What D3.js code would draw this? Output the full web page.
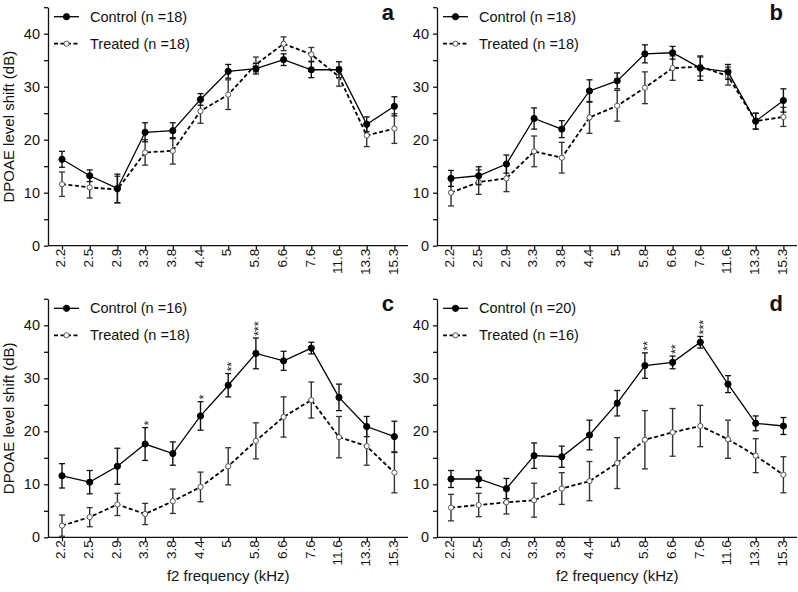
<!DOCTYPE html>
<html>
<head>
<meta charset="utf-8">
<script src="https://cdn.jsdelivr.net/npm/d3@7/dist/d3.min.js"></script>
<style>
  body { margin: 0; background: #fff; }
  text { font-family: "Liberation Sans", Arial, Helvetica, sans-serif; fill: #111; }
  .stars { filter: grayscale(100%); }
</style>
</head>
<body>
<script>
// f2 frequencies (kHz)
var freqs = ["2.2", "2.5", "2.9", "3.3", "3.8", "4.4", "5", "5.8", "6.6", "7.6", "11.6", "13.3", "15.3"];
var yTicks = [0, 5, 10, 15, 20, 25, 30, 35, 40, 45];

// panel a
var controlA    = [16.3, 13.2, 10.8, 21.4, 21.7, 27.6, 32.9, 33.4, 35.1, 33.2, 33.2, 22.9, 26.3];
var controlAErr = [1.5, 1.1, 2.7, 1.8, 1.5, 1.1, 1.3, 1.0, 1.1, 1.5, 1.5, 1.4, 1.8];
var treatedA    = [11.6, 11.0, 10.6, 17.6, 17.9, 25.4, 28.5, 34.2, 38.1, 36.1, 31.9, 20.8, 22.1];
var treatedAErr = [2.3, 2.0, 2.5, 2.4, 2.5, 2.3, 2.8, 1.4, 1.3, 1.3, 1.8, 2.1, 2.8];

// panel b
var controlB    = [12.7, 13.2, 15.4, 24.0, 22.0, 29.2, 31.1, 36.2, 36.4, 33.5, 32.8, 23.5, 27.4];
var controlBErr = [1.5, 1.7, 1.7, 2.0, 1.6, 2.1, 1.5, 1.7, 1.2, 2.3, 1.4, 1.5, 2.2];
var treatedB    = [10.0, 12.0, 12.7, 17.8, 16.6, 24.2, 26.4, 29.8, 33.5, 33.8, 32.0, 23.5, 24.3];
var treatedBErr = [2.5, 2.3, 2.5, 2.9, 2.9, 3.0, 2.9, 3.0, 2.3, 1.8, 1.7, 1.5, 1.8];

// panel c
var controlC    = [11.6, 10.4, 13.4, 17.6, 15.8, 22.9, 28.7, 34.7, 33.3, 35.7, 26.4, 20.9, 19.0];
var controlCErr = [2.3, 2.2, 3.4, 3.1, 2.2, 2.7, 2.2, 2.9, 1.8, 1.1, 2.5, 1.9, 2.9];
var treatedC    = [2.2, 3.8, 6.2, 4.4, 6.8, 9.5, 13.4, 18.2, 22.7, 25.9, 18.9, 17.2, 12.2];
var treatedCErr = [2.0, 1.8, 2.1, 2.0, 2.3, 2.8, 3.5, 3.4, 3.8, 3.4, 3.9, 3.6, 3.8];
var starsC      = ["", "", "", "*", "", "*", "**", "***", "", "", "", "", ""];

// panel d
var controlD    = [11.0, 11.0, 9.2, 15.4, 15.2, 19.3, 25.3, 32.4, 33.0, 36.8, 28.9, 21.5, 21.0];
var controlDErr = [1.6, 1.6, 1.9, 2.4, 2.0, 2.8, 2.4, 2.4, 1.2, 1.1, 1.6, 1.4, 1.6];
var treatedD    = [5.6, 6.1, 6.6, 7.0, 9.2, 10.6, 14.0, 18.4, 19.8, 21.0, 18.5, 15.4, 11.8];
var treatedDErr = [2.5, 2.2, 2.2, 3.2, 3.0, 3.7, 4.8, 5.5, 4.5, 3.9, 3.6, 3.2, 3.4];
var starsD      = ["", "", "", "", "", "", "", "**", "**", "***", "", "", ""];

var noStars = freqs.map(function() { return ""; });

var panels = [
    { label: "a", nC: 18, nT: 18, ctrl: controlA, ctrlErr: controlAErr, trt: treatedA, trtErr: treatedAErr, stars: noStars,
      x0: 48, y0: 245.7, yLabel: true, xLabel: false },
    { label: "b", nC: 18, nT: 18, ctrl: controlB, ctrlErr: controlBErr, trt: treatedB, trtErr: treatedBErr, stars: noStars,
      x0: 437, y0: 245.7, yLabel: false, xLabel: false },
    { label: "c", nC: 16, nT: 18, ctrl: controlC, ctrlErr: controlCErr, trt: treatedC, trtErr: treatedCErr, stars: starsC,
      x0: 48, y0: 537.3, yLabel: true, xLabel: true },
    { label: "d", nC: 20, nT: 16, ctrl: controlD, ctrlErr: controlDErr, trt: treatedD, trtErr: treatedDErr, stars: starsD,
      x0: 437, y0: 537.3, yLabel: false, xLabel: true }
];

var svg = d3.select("body")
    .append("svg")
    .attr("width", 798)
    .attr("height", 592);

panels.forEach(function(p) {

    var g = svg.append("g");

    var y = d3.scaleLinear()
        .domain([0, 45])
        .range([p.y0, p.y0 - 238.5]);

    var x = d3.scalePoint()
        .domain(freqs)
        .range([p.x0 + 14, p.x0 + 14 + 12 * 27.7]);

    // y axis
    var yAxis = g.append("g")
        .attr("transform", "translate(" + p.x0 + ",0)")
        .call(d3.axisLeft(y)
            .tickValues(yTicks)
            .tickSize(4)
            .tickSizeOuter(0)
            .tickFormat(function(d) { return d % 10 === 0 ? d : ""; }));
    yAxis.selectAll("path, line").attr("stroke", "#111").attr("stroke-width", 1.3);
    yAxis.selectAll("text")
        .attr("x", -8)
        .style("font-size", "14.5px")
        .style("font-family", "'Liberation Sans', Arial, sans-serif")
        .attr("fill", "#111");

    // x axis
    var xAxis = g.append("g")
        .attr("transform", "translate(0," + p.y0 + ")")
        .call(d3.axisBottom(x).tickSize(4).tickSizeOuter(0));
    xAxis.select(".domain").remove();
    xAxis.selectAll("line").attr("stroke", "#111").attr("stroke-width", 1.3);
    xAxis.selectAll("text")
        .attr("transform", "rotate(-90)")
        .attr("text-anchor", "end")
        .attr("x", -3)
        .attr("y", -2)
        .attr("dy", "0.35em")
        .style("font-size", "13.5px")
        .style("font-family", "'Liberation Sans', Arial, sans-serif")
        .attr("fill", "#111");
    g.append("line")
        .attr("x1", p.x0).attr("x2", Math.min(p.x0 + 360, 798))
        .attr("y1", p.y0).attr("y2", p.y0)
        .attr("stroke", "#111").attr("stroke-width", 1.3);

    var series = [
        { vals: p.trt, err: p.trtErr, dash: "4,2.5", width: 1.8, fill: "#fff", stroke: "#555", r: 2.6, errColor: "#333" },
        { vals: p.ctrl, err: p.ctrlErr, dash: null, width: 1.3, fill: "#000", stroke: "#000", r: 3.1, errColor: "#111" }
    ];

    series.forEach(function(s) {
        var rows = freqs.map(function(f, i) { return { f: f, v: s.vals[i], e: s.err[i] }; });

        var eb = g.append("g").selectAll("g")
            .data(rows)
            .enter().append("g");
        eb.append("line")
            .attr("x1", function(d) { return x(d.f); })
            .attr("x2", function(d) { return x(d.f); })
            .attr("y1", function(d) { return y(d.v - d.e); })
            .attr("y2", function(d) { return y(d.v + d.e); })
            .attr("stroke", s.errColor).attr("stroke-width", 1.4);
        [-1, 1].forEach(function(sign) {
            eb.append("line")
                .attr("x1", function(d) { return x(d.f) - 3; })
                .attr("x2", function(d) { return x(d.f) + 3; })
                .attr("y1", function(d) { return y(d.v + sign * d.e); })
                .attr("y2", function(d) { return y(d.v + sign * d.e); })
                .attr("stroke", s.errColor).attr("stroke-width", 1.3);
        });

        g.append("path")
            .datum(rows)
            .attr("d", d3.line()
                .x(function(d) { return x(d.f); })
                .y(function(d) { return y(d.v); }))
            .attr("fill", "none")
            .attr("stroke", "#000")
            .attr("stroke-width", s.width)
            .attr("stroke-dasharray", s.dash);

        g.append("g").selectAll("circle")
            .data(rows)
            .enter().append("circle")
            .attr("cx", function(d) { return x(d.f); })
            .attr("cy", function(d) { return y(d.v); })
            .attr("r", s.r)
            .attr("fill", s.fill)
            .attr("stroke", s.stroke)
            .attr("stroke-width", 1);
    });

    // significance stars
    var starG = g.append("g").attr("class", "stars");
    freqs.forEach(function(f, i) {
        if (!p.stars[i]) return;
        var top = y(p.ctrl[i] + p.ctrlErr[i]);
        starG.append("text")
            .attr("transform", "translate(" + x(f) + "," + (top - 2) + ") rotate(-90)")
            .attr("dy", "0.6em")
            .attr("fill", "#111")
            .style("font-size", "12.5px")
            .text(p.stars[i]);
    });

    // legend
    var legend = [
        { text: "Control (n =" + p.nC + ")", s: series[1], dy: 11 },
        { text: "Treated (n =" + p.nT + ")", s: series[0], dy: 38 }
    ];
    var ly0 = p.y0 - 240;
    legend.forEach(function(l) {
        var ly = ly0 + l.dy;
        g.append("line")
            .attr("x1", p.x0 + 6).attr("x2", p.x0 + 31)
            .attr("y1", ly).attr("y2", ly)
            .attr("stroke", "#000")
            .attr("stroke-width", l.s.width)
            .attr("stroke-dasharray", l.s.dash);
        g.append("circle")
            .attr("cx", p.x0 + 18.5).attr("cy", ly)
            .attr("r", l.s.r)
            .attr("fill", l.s.fill)
            .attr("stroke", l.s.stroke)
            .attr("stroke-width", 1);
        g.append("text")
            .attr("x", p.x0 + 42).attr("y", ly)
            .attr("dy", "0.35em")
            .style("font-size", "14.5px")
            .text(l.text);
    });

    // panel letter
    g.append("text")
        .attr("x", p.x0 + 346).attr("y", ly0 + 14)
        .attr("text-anchor", "end")
        .style("font-size", "22px")
        .style("font-weight", "bold")
        .text(p.label);

    if (p.yLabel) {
        g.append("text")
            .attr("transform", "translate(13.5," + (p.y0 - 119) + ") rotate(-90)")
            .attr("text-anchor", "middle")
            .style("font-size", "15px")
            .text("DPOAE level shift (dB)");
    }
    if (p.xLabel) {
        g.append("text")
            .attr("x", p.x0 + 14 + 6 * 27.7)
            .attr("y", 581)
            .attr("text-anchor", "middle")
            .style("font-size", "15px")
            .text("f2 frequency (kHz)");
    }
});
</script>
</body>
</html>
